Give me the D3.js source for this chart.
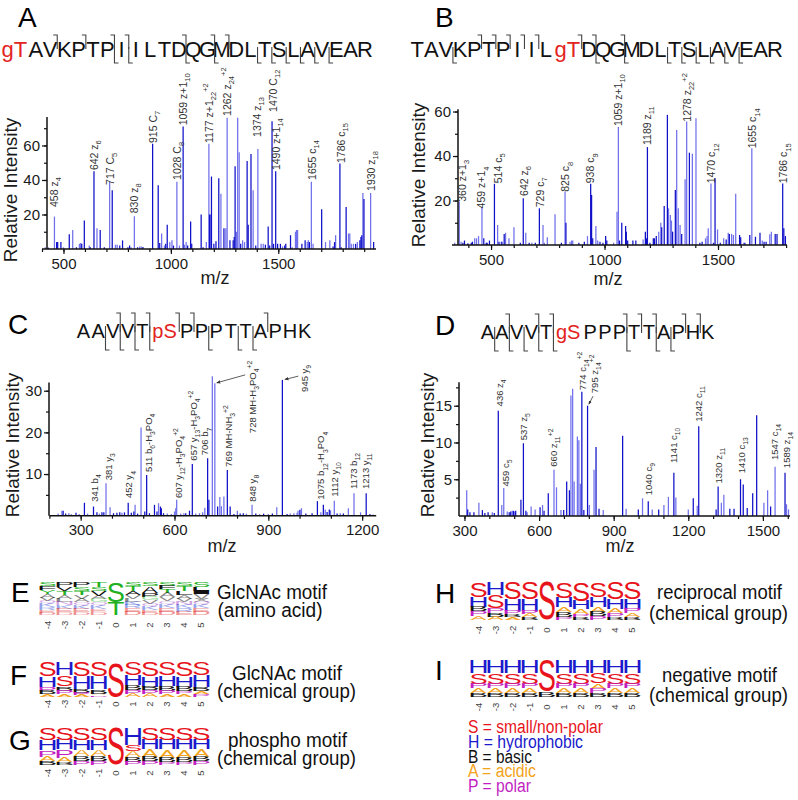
<!DOCTYPE html>
<html><head><meta charset="utf-8">
<script src="https://cdn.jsdelivr.net/npm/d3@7"></script>
<style>body{margin:0;background:#fff}svg{font-family:"Liberation Sans",Arial,Helvetica,sans-serif}</style>
</head><body><svg id="c" width="798" height="800"></svg>
<script>
// ---------------- DATA ----------------
const seqA = ["gT","A","V","K","P","T","P","I","I","L","T","D","Q","G","M","D","L","T","S","L","A","V","E","A","R"];
const seqB = ["T","A","V","K","P","T","P","I","I","L","gT","D","Q","G","M","D","L","T","S","L","A","V","E","A","R"];
const seqC = ["A","A","V","V","T","pS","P","P","P","T","T","A","P","H","K"];
const seqD = ["A","A","V","V","T","gS","P","P","P","T","T","A","P","H","K"];
// fragment brackets: residue index after which the cleavage occurs
const cFragA = [2,4,6,7,11,13,14], zFragA = [6,7,11,13,16,17,18,19,20,21];
const cFragB = [4,5,6,7,8,10,11,13], zFragB = [2,11,13,16,17,18,19,20,21];
const cFragC = [2,3,4,5,6,11], zFragC = [1,2,3,4,7,9,10];
const cFragD = [1,3,4,8,9,10,12,13], zFragD = [0,1,2,3,4,8,10,11];

// spectra: [m/z, relative intensity]
const darkA = [[430,0.8],[468,4],[473,4],[488,4],[527,8.5],[560,1],[585,3],[597,16.5],[625,1],[642,45],[671,11],[690,1],[727,34],[762,2],[775,5],[800,1],[808,2],[845,1],[870,1.2],[915,61],[941,37],[948,3.5],[976,3],[983,14],[1012,2],[1057,71],[1078,2],[1092,16],[1097,3],[1141,20],[1150,1],[1180,20],[1189,42],[1200,3],[1210,4.5],[1223,41],[1247,12],[1275,5],[1290,5],[1295,7],[1299,48],[1325,3],[1355,51],[1360,14],[1373,55],[1395,2],[1440,2.5],[1453,13],[1460,2],[1471,74],[1478,3],[1488,45],[1497,3],[1510,3],[1530,2],[1535,3],[1557,8],[1610,3],[1625,5],[1645,4],[1702,23],[1755,1.5],[1762,4],[1787,49.6],[1793,1],[1816,24.4],[1860,3],[1880,5],[1885,7],[1889,8],[1899,29],[1944,4]];
const lightA = [[415,1],[458,18.8],[500,1],[543,11],[574,3],[580,3.5],[620,2],[656,12],[715,39],[742,2.5],[750,2.5],[815,1],[830,19],[855,1.5],[862,1.5],[957,9],[970,2],[995,4],[1005,5],[1028,39],[1040,2],[1063,2.5],[1071,4],[1165,4],[1177,61],[1185,20],[1233,32],[1256,12],[1262,76],[1305,10],[1311,76],[1318,56],[1334,5],[1343,4],[1383,34],[1405,58],[1420,3],[1430,3],[1520,1.5],[1565,1],[1580,10],[1585,11],[1590,11],[1635,4],[1640,5],[1654,39],[1662,3],[1720,4],[1740,5],[1767,8],[1827,9],[1833,9],[1840,3],[1850,3],[1868,4],[1894,32.5],[1930,32.5]];
const darkB = [[376,1],[383,2],[398,0.8],[413,1],[418,1.5],[468,3],[479,1],[483,1],[493,2],[515,27.5],[535,1.5],[548,1.5],[558,5],[629,1],[642,21],[668,1],[695,1],[713,16.5],[810,1],[830,10],[887,1],[911,1.5],[939,27.5],[943,22.5],[948,3],[980,1.5],[993,1],[1005,4],[1010,2],[1066,2],[1076,10],[1093,8.5],[1096,6],[1102,2],[1125,2],[1138,2],[1180,6],[1185,3],[1189,44],[1200,1],[1215,3],[1220,3],[1228,4],[1252,8],[1263,17.5],[1277,58.5],[1300,6],[1312,24.7],[1340,5],[1374,41.5],[1420,1],[1430,1.5],[1480,1],[1487,30],[1510,1],[1536,2.5],[1550,5],[1595,4.5],[1600,3.5],[1615,1],[1640,4.5],[1665,3.7],[1685,5.5],[1703,1.5],[1712,1.5],[1752,5],[1760,5],[1785,27.7],[1790,7.5],[1797,4]];
const lightB = [[340,1],[360,19.5],[368,1.5],[428,3],[436,3],[445,4],[460,17],[529,9],[545,1.5],[564,5.5],[579,3],[601,8],[653,5.5],[680,1],[729,9],[735,1],[748,3.5],[782,13.8],[826,24],[848,1.5],[855,2],[860,2],[925,4],[962,8.5],[970,2],[1040,1],[1055,15],[1061,53],[1170,2.5],[1239,6],[1248,10],[1282,16.5],[1290,13.5],[1295,11],[1318,51.7],[1325,16.5],[1333,9],[1355,29.5],[1362,55.5],[1387,41],[1403,57],[1445,3],[1452,4],[1457,7.5],[1469,27.7],[1498,7],[1525,3],[1545,5.5],[1560,5],[1568,4.5],[1578,23],[1620,1],[1649,43.5],[1695,2],[1728,4.8],[1735,6]];
const darkC = [[244,1.2],[252,0.5],[270,0.3],[285,0.7],[312,3.1],[341,2.2],[352,0.8],[368,0.8],[374,0.8],[405,0.6],[416,0.7],[425,0.8],[440,0.8],[452,3.1],[462,0.7],[470,1],[482,0.5],[505,1],[511,9.8],[520,0.6],[536,2.6],[544,1],[555,2.2],[558,1.8],[565,0.6],[636,0.6],[648,1.2],[657,12.4],[706,13.8],[710,3.8],[738,2.2],[769,11],[778,2.2],[790,0.4],[810,0.5],[820,0.6],[860,0.5],[872,0.3],[885,0.5],[913,0.5],[945,32.6],[960,0.4],[1001,1.4],[1020,0.5],[1040,0.6],[1057,3.5],[1076,2.6],[1088,0.9],[1095,1.5],[1120,0.5],[1140,0.5],[1213,5.4],[1225,0.4]];
const lightC = [[228,0.5],[240,1.2],[262,0.6],[295,0.4],[322,0.5],[360,0.5],[381,7.8],[394,2],[432,0.7],[474,2.6],[493,21.2],[549,3],[577,0.5],[590,0.4],[600,1],[604,1.8],[607,3.8],[620,0.5],[630,0.6],[668,0.5],[680,0.6],[690,0.8],[697,1.9],[721,33.5],[729,31.8],[745,4.5],[750,2.3],[758,4.6],[801,1.2],[830,0.5],[848,2.6],[900,0.4],[927,2],[970,0.5],[982,0.6],[992,0.7],[995,1.2],[1006,1.8],[1068,0.8],[1082,1.5],[1099,1.3],[1111,3.6],[1130,0.6],[1156,1.8],[1174,5.4],[1195,0.8],[1235,0.3]];
const darkD = [[313,0.9],[322,0.5],[338,0.5],[372,0.8],[382,0.4],[395,0.5],[420,0.4],[436,14.3],[480,0.5],[486,0.6],[497,0.7],[506,0.7],[527,2.2],[537,9.9],[547,0.7],[604,1.2],[620,0.7],[637,3.1],[699,0.8],[711,4.7],[722,3.5],[772,16.9],[780,0.8],[795,15],[829,9.4],[841,1],[936,10.9],[999,0.9],[1039,2],[1081,0.9],[1142,5.9],[1220,2.4],[1242,12.2],[1312,0.9],[1320,4],[1367,1],[1384,1],[1410,5],[1421,4.3],[1437,1.1],[1459,3.1],[1475,13.7],[1531,1.3],[1589,5.9]];
const lightD = [[309,3.5],[358,1.8],[412,0.5],[450,1.5],[458,3.8],[472,0.6],[492,0.7],[502,0.6],[552,0.5],[568,1.3],[584,0.9],[614,1.5],[660,6.3],[670,3.9],[688,0.8],[728,16.4],[735,17.3],[741,4.7],[754,10.8],[760,10.3],[766,4.4],[802,1.5],[821,6.3],[858,0.8],[950,1],[1016,2.4],[1055,0.9],[1102,1.5],[1120,2.6],[1150,2.5],[1200,0.9],[1236,1.4],[1333,1.8],[1343,2.9],[1504,1.8],[1519,3.5],[1549,6.7],[1595,1.6],[1603,0.9]];

// peak annotations: [m/z, intensity where label starts, text]  (_ = subscript, ^ = superscript)
const labelsA = [[456,22.6,"458 z_4"],[642,44,"642 z_6"],[717,35.4,"717 C_5"],[828,19,"830 z_8"],[917,59.7,"915 C_7"],[1028,38.3,"1028 C_8"],[1056,70,"1059 z+1_10"],[1177,59.7,"1177 z+1_22^+2"],[1261,75.4,"1262 z_24^+2"],[1403,63.2,"1374 z_13"],[1475,77.7,"1470 C_12"],[1489,44,"1490 z+1_14"],[1657,38.3,"1655 c_14"],[1792,48.1,"1786 c_15"],[1932,31.9,"1930 z_18"]];
const labelsB = [[374,18.1,"360 z+1_3"],[459,15.1,"459 z+1_4"],[530,26.4,"514 c_5"],[645,20.7,"642 z_6"],[716,15.6,"729 c_7"],[829,22.6,"825 c_8"],[939,26.4,"938 c_9"],[1061,52.1,"1059 z+1_10"],[1188,43.6,"1189 z_11"],[1365,54.1,"1278 z_22^+2"],[1472,26.4,"1470 c_12"],[1653,42.1,"1655 c_14"],[1790,26.4,"1786 c_15"]];
const labelsC = [[346,2.6,"341 b_4"],[388,7.8,"381 y_3"],[455,3.5,"452 y_4"],[516,9.8,"511 b_6-H_3PO_4"],[612,3.5,"607 y_12-H_3PO_4^+2"],[660,12.5,"657 y_13-H_3PO_4^+2"],[698,13.8,"706 b_7"],[772,11,"769 MH-NH_3^+2"],[851,19.1,"728 MH-H_3PO_4^+2"],[849,2.6,"848 y_8"],[1017,29,"945 y_9"],[1069,3.1,"1075 b_12-H_3PO_4"],[1113,3.8,"1112 y_10"],[1172,5.7,"1173 b_12"],[1212,5.7,"1213 y_11"]];
const labelsD = [[440,14.5,"436 z_4"],[467,3.6,"459 c_5"],[539,9.9,"537 z_5"],[660,6.3,"660 z_11^+2"],[775,16.7,"774 c_14^+2"],[825,16.3,"795 z_14^+2"],[1039,2.4,"1040 c_9"],[1143,6.8,"1141 c_10"],[1240,12.4,"1242 c_11"],[1321,4,"1320 z_11"],[1415,5.4,"1410 c_13"],[1549,7.2,"1547 c_14"],[1596,6.1,"1589 z_14"]];
// leader arrows: [from m/z, from int, to m/z, to int]
const arrowsC = [[826,33.8,735,31.9],[996,33.5,953,32.7]];
const arrowsD = [[817,16.3,800,15.2]];

// motif logos (letters top -> bottom, with fractions)
const positions = ["-4","-3","-2","-1","0","1","2","3","4","5"];
const logoE = [
 [["S",.13],["F",.1],["Y",.12],["A",.12],["V",.1],["Q",.1],["K",.1],["R",.08],["E",.08],["D",.07]],
 [["P",.15],["V",.12],["T",.12],["A",.12],["L",.1],["N",.1],["K",.1],["E",.1],["D",.09]],
 [["P",.15],["S",.12],["T",.12],["V",.12],["A",.1],["Q",.1],["K",.1],["E",.1],["D",.09]],
 [["T",.15],["S",.12],["V",.15],["A",.1],["G",.1],["Q",.1],["K",.1],["E",.09],["D",.09]],
 [["S",.6],["T",.4]],
 [["S",.13],["T",.14],["A",.13],["V",.1],["L",.1],["K",.1],["R",.1],["E",.1],["D",.1]],
 [["S",.12],["A",.2],["P",.12],["G",.12],["V",.1],["Q",.1],["K",.1],["E",.07],["D",.07]],
 [["S",.12],["F",.1],["T",.1],["A",.14],["V",.12],["Q",.1],["K",.1],["E",.12],["D",.1]],
 [["S",.12],["T",.14],["L",.12],["A",.12],["V",.1],["N",.1],["K",.1],["R",.1],["E",.1]],
 [["S",.14],["L",.12],["I",.1],["V",.14],["X",.1],["Q",.1],["K",.1],["E",.1],["D",.1]]];
const logoF = [
 [["S",.40],["H",.30],["P",.12],["B",.10],["A",.08]],
 [["H",.38],["S",.32],["B",.12],["P",.10],["A",.08]],
 [["S",.40],["H",.36],["B",.12],["P",.06],["A",.06]],
 [["S",.40],["H",.38],["B",.12],["A",.05],["P",.05]],
 [["S",1]],
 [["S",.38],["H",.28],["B",.14],["P",.10],["A",.10]],
 [["S",.42],["H",.28],["B",.10],["P",.10],["A",.10]],
 [["S",.38],["H",.30],["B",.14],["P",.10],["A",.08]],
 [["S",.40],["H",.30],["B",.14],["P",.08],["A",.08]],
 [["S",.38],["H",.34],["B",.12],["A",.08],["P",.08]]];
const logoG = [
 [["S",.32],["H",.28],["P",.18],["A",.12],["B",.10]],
 [["S",.32],["H",.26],["P",.22],["A",.12],["B",.08]],
 [["S",.32],["H",.28],["A",.16],["B",.14],["P",.10]],
 [["S",.32],["H",.28],["A",.16],["B",.14],["P",.10]],
 [["S",1]],
 [["H",.45],["S",.18],["A",.16],["B",.12],["P",.09]],
 [["S",.32],["H",.26],["A",.20],["B",.12],["P",.10]],
 [["S",.32],["H",.26],["A",.22],["B",.12],["P",.08]],
 [["S",.32],["H",.26],["A",.22],["B",.12],["P",.08]],
 [["S",.32],["H",.26],["A",.20],["B",.12],["P",.10]]];
const logoH = [
 [["S",.40],["H",.25],["B",.12],["P",.12],["A",.11]],
 [["H",.35],["S",.35],["P",.12],["B",.10],["A",.08]],
 [["S",.45],["H",.30],["P",.10],["B",.08],["A",.07]],
 [["S",.45],["H",.30],["P",.10],["A",.08],["B",.07]],
 [["S",1]],
 [["S",.42],["H",.25],["A",.13],["B",.12],["P",.08]],
 [["S",.50],["H",.22],["A",.12],["P",.08],["B",.08]],
 [["S",.40],["H",.25],["A",.13],["B",.12],["P",.10]],
 [["S",.45],["H",.25],["A",.12],["P",.10],["B",.08]],
 [["S",.45],["H",.25],["P",.12],["A",.10],["B",.08]]];
const logoI = [
 [["H",.35],["S",.30],["P",.12],["A",.12],["B",.11]],
 [["H",.35],["S",.30],["P",.12],["A",.12],["B",.11]],
 [["H",.35],["S",.30],["P",.12],["A",.12],["B",.11]],
 [["H",.35],["S",.30],["P",.12],["A",.12],["B",.11]],
 [["S",.85],["B",.15]],
 [["H",.35],["S",.30],["P",.12],["A",.12],["B",.11]],
 [["H",.35],["S",.30],["P",.12],["A",.12],["B",.11]],
 [["H",.35],["S",.28],["A",.15],["P",.12],["B",.10]],
 [["H",.35],["S",.30],["P",.12],["A",.12],["B",.11]],
 [["H",.35],["S",.30],["P",.12],["A",.12],["B",.11]]];
const legendItems = ["S = small/non-polar","H = hydrophobic","B = basic","A = acidic","P = polar"];

// ---------------- DRAWING ----------------
const svg = d3.select("#c");
const DARK = "#1010c8", LIGHT = "#7070ec", TXT = "#1a1a1a", LAB = "#333";
const GROUP_COL = {S:"#e8141c",H:"#1a1acc",B:"#111111",A:"#f2a31b",P:"#c21fc2"};
const aaColor = ch => "STGYC".includes(ch) ? "#21b021" : "QN".includes(ch) ? "#a43fc7" : "KRH".includes(ch) ? "#2b47d6" : "DE".includes(ch) ? "#e02424" : "#111";

svg.append("defs").append("marker").attr("id","ah").attr("viewBox","0 0 10 10")
  .attr("refX",9).attr("refY",5).attr("markerWidth",5).attr("markerHeight",5).attr("orient","auto")
  .append("path").attr("d","M0,1L10,5L0,9z").attr("fill","#333");

function rich(t, str, fs){
  const re = /_([0-9]+)|\^([+0-9]+)|([^_^]+)/g; let m, cur = 0;
  while((m = re.exec(str))){
    if(m[3]!==undefined){ t.append("tspan").attr("dy",(-cur)+"px").text(m[3]); cur = 0; }
    else { const target = m[1]!==undefined ? fs*0.32 : -fs*0.42;
      t.append("tspan").attr("dy",(target-cur)+"px").style("font-size",(fs*0.72)+"px").text(m[1]!==undefined?m[1]:m[2]); cur = target; }
  }
}

function spectrum(p){
  const g = svg.append("g");
  const x = d3.scaleLinear().domain(p.xd).range(p.xr);
  const y = d3.scaleLinear().domain(p.yd).range(p.yr);
  [[p.light,LIGHT],[p.dark,DARK]].forEach(([data,col])=>{
    g.append("g").selectAll("line").data(data).join("line")
      .attr("x1",d=>x(d[0])).attr("x2",d=>x(d[0])).attr("y1",y(0)).attr("y2",d=>y(d[1]))
      .attr("stroke",col).attr("stroke-width",1.25);
  });
  const xa = g.append("g").attr("transform",`translate(0,${y(0)})`);
  xa.append("g").call(d3.axisBottom(x).tickValues(p.xMinor).tickSize(3).tickFormat(""));
  xa.append("g").call(d3.axisBottom(x).tickValues(p.xMajor).tickSize(5).tickPadding(4).tickFormat(d3.format("d")));
  xa.selectAll(".domain").remove();
  xa.append("line").attr("x1",p.xr[0]).attr("x2",p.xr[1]).attr("stroke","#111").attr("stroke-width",1.5);
  const ya = g.append("g").attr("transform",`translate(${p.yAxisX},0)`);
  ya.append("g").call(d3.axisLeft(y).tickValues(d3.range(p.yStep,p.yd[1],p.yStep)).tickSize(3).tickFormat(""));
  ya.append("g").call(d3.axisLeft(y).tickValues(p.yMajor).tickSize(5).tickPadding(2).tickFormat(d3.format("d")));
  ya.selectAll(".domain").remove();
  ya.append("line").attr("y1",y(0)).attr("y2",p.yr[1]).attr("stroke","#111").attr("stroke-width",1.5);
  g.selectAll(".tick line").attr("stroke","#111").attr("stroke-width",1.2);
  g.selectAll(".tick text").attr("font-size",15).attr("fill",TXT).attr("font-family","Liberation Sans, Arial, sans-serif");
  g.append("text").attr("transform",`translate(${p.yt[0]},${p.yt[1]}) rotate(-90)`).attr("text-anchor","middle")
    .attr("font-size",19).attr("fill",TXT).text("Relative Intensity");
  g.append("text").attr("x",p.xt[0]).attr("y",p.xt[1]).attr("text-anchor","middle").attr("font-size",18).attr("fill",TXT).text("m/z");
  p.labels.forEach(([mz,at,s])=>{
    const t = g.append("text").attr("transform",`translate(${x(mz)+p.lfs*0.35},${y(at)-3}) rotate(-90)`)
      .attr("font-size",p.lfs).attr("fill",LAB);
    rich(t,s,p.lfs);
  });
  (p.arrows||[]).forEach(([m1,i1,m2,i2])=>{
    g.append("line").attr("x1",x(m1)).attr("y1",y(i1)).attr("x2",x(m2)).attr("y2",y(i2))
      .attr("stroke","#333").attr("stroke-width",0.8).attr("marker-end","url(#ah)");
  });
}

spectrum({dark:darkA,light:lightA,labels:labelsA,xd:[400,1955],xr:[42,376],yAxisX:47,yd:[0,76.5],yr:[249,117],yStep:10,yMajor:[20,40,60],
  xMajor:[500,1000,1500],xMinor:d3.range(400,1901,100),yt:[17,190],xt:[215,284],lfs:10.5});
spectrum({dark:darkB,light:lightB,labels:labelsB,xd:[328,1804],xr:[452,787],yAxisX:458,yd:[0,61],yr:[245,109.3],yStep:10,yMajor:[20,40,60],
  xMajor:[500,1000,1500],xMinor:d3.range(400,1801,100),yt:[425,175],xt:[608,285],lfs:10.5});
spectrum({dark:darkC,light:lightC,labels:labelsC,arrows:arrowsC,xd:[200,1245],xr:[49.4,376.2],yAxisX:49,yd:[0,32],yr:[515.7,382.4],yStep:5,yMajor:[10,20,30],
  xMajor:[300,600,900,1200],xMinor:d3.range(200,1201,100),yt:[19,445],xt:[222,552],lfs:9.5});
spectrum({dark:darkD,light:lightD,labels:labelsD,arrows:arrowsD,xd:[278,1609],xr:[459,790],yAxisX:459,yd:[0,18.2],yr:[516,382.2],yStep:2.5,yMajor:[5,10,15],
  xMajor:[300,600,900,1200,1500],xMinor:d3.range(300,1601,100),yt:[434,445],xt:[620,552],lfs:9.5});

function sequence(tokens,x0,x1,base,fs,cSet,zSet,up,lo){
  const units = tokens.map(t=>t.length), cum=[0];
  units.forEach(u=>cum.push(cum[cum.length-1]+u));
  const u = (x1-x0)/cum[cum.length-1];
  const g = svg.append("g");
  tokens.forEach((t,i)=>{
    g.append("text").attr("x",x0+(cum[i]+units[i]/2)*u).attr("y",base).attr("text-anchor","middle")
      .attr("font-size",fs).attr("fill",t.length>1?"#e3231c":"#111").text(t);
  });
  cSet.forEach(i=>{ const bx=x0+cum[i+1]*u;
    g.append("path").attr("d",`M${bx-4},${base+up[0]}H${bx}V${base+up[1]}`).attr("fill","none").attr("stroke","#444").attr("stroke-width",1.1); });
  zSet.forEach(i=>{ const bx=x0+cum[i+1]*u;
    g.append("path").attr("d",`M${bx},${base+lo[0]}V${base+lo[1]}H${bx+4}`).attr("fill","none").attr("stroke","#444").attr("stroke-width",1.1); });
}
sequence(seqA,0,372,57,22,cFragA,zFragA,[-22,-8],[-10,6]);
sequence(seqB,410,782,57,22,cFragB,zFragB,[-22,-8],[-10,6]);
sequence(seqC,76,312,338,20,cFragC,zFragC,[-25,-6],[-12,12]);
sequence(seqD,480,715,339,20,cFragD,zFragD,[-25,-6],[-12,12]);

[["A",18,27],["B",435,27],["C",8,334],["D",435,335],["E",11,602],["F",10,685],["G",9,750],["H",435,603],["I",435,680]]
  .forEach(([l,x,y])=>svg.append("text").attr("x",x).attr("y",y).attr("font-size",28).attr("fill","#000").text(l));

const ctx = document.createElement("canvas").getContext("2d");
ctx.font = '100px "Liberation Sans"';
const metr = {};
function gm(ch){ if(!metr[ch]){ const m=ctx.measureText(ch);
  metr[ch]={l:m.actualBoundingBoxLeft,r:m.actualBoundingBoxRight,a:m.actualBoundingBoxAscent,d:m.actualBoundingBoxDescent}; } return metr[ch]; }
function logo(cols,x0,x1,yTop,yBot,colorOf,labY,fade){
  const g = svg.append("g");
  const cw = (x1-x0)/cols.length, h = yBot-yTop;
  cols.forEach((stack,i)=>{
    const tot = d3.sum(stack,d=>d[1]);
    let yy = yTop; const lx = x0+i*cw+cw*0.03, lw = cw*0.94;
    stack.forEach(([ch,f],k)=>{
      const lh = f/tot*h, m = gm(ch), gw = m.l+m.r, gh = m.a+m.d;
      g.append("text").attr("font-size",100).attr("fill",colorOf(ch))
        .attr("opacity", fade && k>=3 ? 0.5 : 1)
        .attr("transform",`translate(${lx},${yy}) scale(${lw/gw},${lh/gh}) translate(${m.l},${m.a})`).text(ch);
      yy += lh;
    });
    g.append("text").attr("transform",`translate(${x0+(i+0.5)*cw+3},${labY}) rotate(-90)`).attr("text-anchor","middle")
      .attr("font-size",9.5).attr("fill","#444").text(positions[i]);
  });
}
logo(logoE,39,210,582,615,aaColor,625,true);
logo(logoF,39,210,662,697,c=>GROUP_COL[c],704,false);
logo(logoG,39,210,728,765,c=>GROUP_COL[c],773,false);
logo(logoH,470,641,582,620,c=>GROUP_COL[c],630,false);
logo(logoI,470,641,660,697,c=>GROUP_COL[c],707,false);

[["GlcNAc motif",272,599,110],["(amino acid)",270,617,105],
 ["GlcNAc motif",287,680,110],["(chemical group)",286.5,698,139],
 ["phospho motif",287.5,747,119],["(chemical group)",286.5,765,139],
 ["reciprocal motif",719.5,599,125],["(chemical group)",718.5,620,139],
 ["negative motif",719.5,682,115],["(chemical group)",718.5,702,139]]
 .forEach(([s,x,y,w])=>svg.append("text").attr("x",x).attr("y",y).attr("text-anchor","middle").attr("font-size",20)
   .attr("textLength",w).attr("lengthAdjust","spacingAndGlyphs").attr("fill","#111").text(s));

const legCol = ["#e8141c","#1a1acc","#111111","#f2a31b","#c21fc2"];
const legW = [135,115,64,68,63];
legendItems.forEach((s,i)=>svg.append("text").attr("x",468).attr("y",733+i*14.75).attr("font-size",18)
  .attr("textLength",legW[i]).attr("lengthAdjust","spacingAndGlyphs").attr("fill",legCol[i]).text(s));
</script></body></html>
